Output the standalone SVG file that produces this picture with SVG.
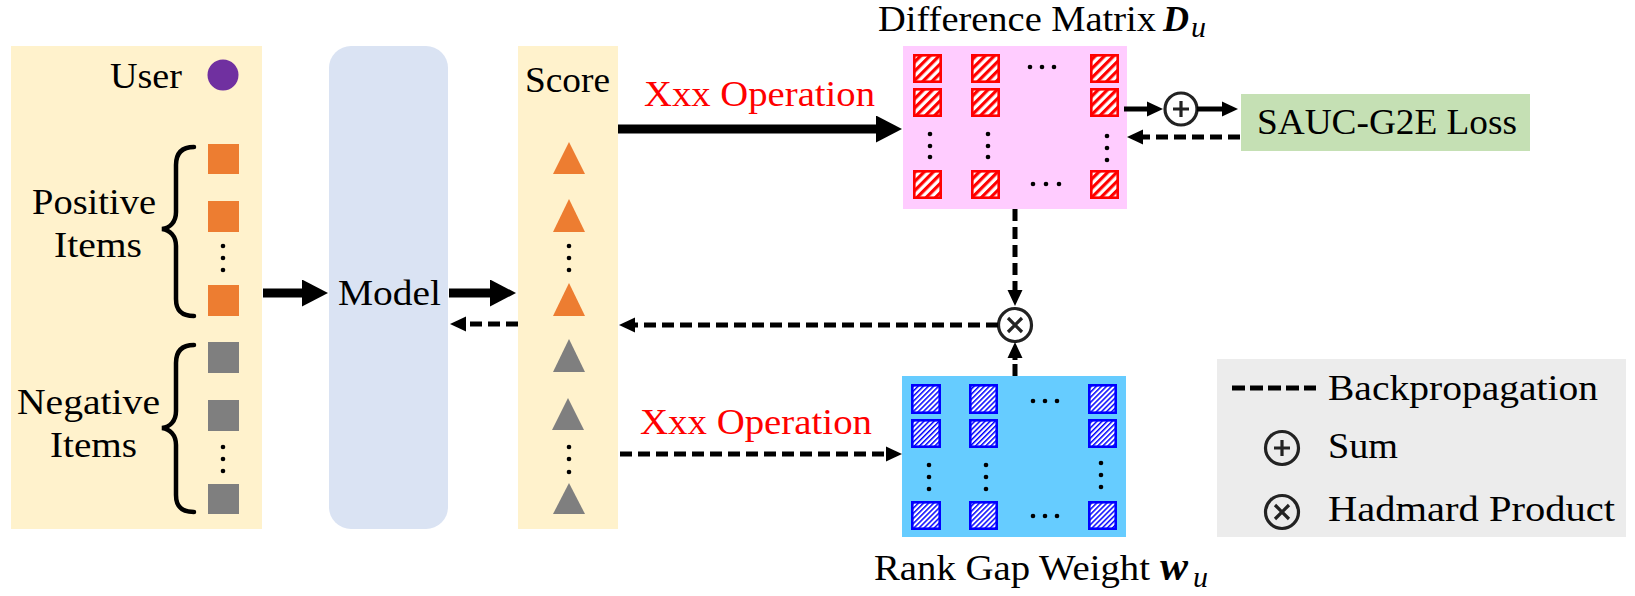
<svg xmlns="http://www.w3.org/2000/svg" width="1635" height="596" viewBox="0 0 1635 596">
<style>
text{font-family:"Liberation Serif","Times New Roman",serif;font-size:36px;fill:#000}
.red{fill:#ff0000}
.solid{stroke:#000;stroke-width:9;fill:none}
.thin{stroke:#000;stroke-width:5;fill:none}
.dash{stroke:#000;stroke-width:5;fill:none;stroke-dasharray:12 6}
.dot{fill:#000}
.brace{stroke:#000;stroke-width:4.5;fill:none;stroke-linecap:round}
.sym{fill:none;stroke:#222;stroke-width:3.2}
.rsq{fill:url(#hatchR);stroke:#ff0000;stroke-width:2.6}
.bsq{fill:url(#hatchB);stroke:#0000ff;stroke-width:2.6}
.orange{fill:#ed7d31}
.gray{fill:#7f7f7f}
</style>
<defs>
<pattern id="hatchR" patternUnits="userSpaceOnUse" width="6.5" height="6.5" patternTransform="rotate(45)">
<rect width="6.5" height="6.5" fill="#fff"/>
<rect width="3.2" height="6.5" fill="#ff0000"/>
</pattern>
<pattern id="hatchB" patternUnits="userSpaceOnUse" width="3.6" height="3.6" patternTransform="rotate(45)">
<rect width="3.6" height="3.6" fill="#fff"/>
<rect width="1.5" height="3.6" fill="#0000ff"/>
</pattern>
<marker id="bigHead" markerUnits="userSpaceOnUse" markerWidth="26" markerHeight="27" refX="1" refY="13.5" orient="auto">
<path d="M0,0 L26,13.5 L0,27 z" fill="#000"/>
</marker>
<marker id="midHead" markerUnits="userSpaceOnUse" markerWidth="16" markerHeight="16" refX="1" refY="8" orient="auto">
<path d="M0,0.5 L16,8 L0,15.5 z" fill="#000"/>
</marker>
</defs>

<g id="input-panel">
<rect x="11" y="46" width="251" height="483" fill="#fff2cc"/>
<text x="110" y="88" textLength="72" lengthAdjust="spacingAndGlyphs">User</text>
<circle cx="223" cy="75" r="15.5" fill="#7030a0"/>
<text x="32" y="214" textLength="124" lengthAdjust="spacingAndGlyphs">Positive</text>
<text x="54" y="257" textLength="88" lengthAdjust="spacingAndGlyphs">Items</text>
<text x="17" y="414" textLength="143" lengthAdjust="spacingAndGlyphs">Negative</text>
<text x="50" y="457" textLength="87" lengthAdjust="spacingAndGlyphs">Items</text>
<path class="brace" d="M194,147 C182,147 176,153 176,165 L176,212 C176,222 170,228 162,229 C170,230 176,236 176,246 L176,299 C176,311 182,316 194,316"/>
<path class="brace" d="M194,345 C182,345 176,351 176,363 L176,411 C176,421 170,427 162,428 C170,429 176,435 176,445 L176,495 C176,507 182,512 194,512"/>
<rect class="orange" x="208" y="144" width="31" height="30"/>
<rect class="orange" x="208" y="201" width="31" height="31"/>
<circle class="dot" cx="223" cy="246" r="2.3"/>
<circle class="dot" cx="223" cy="258" r="2.3"/>
<circle class="dot" cx="223" cy="270" r="2.3"/>
<rect class="orange" x="208" y="285" width="31" height="31"/>
<rect class="gray" x="208" y="342" width="31" height="31"/>
<rect class="gray" x="208" y="400" width="31" height="31"/>
<circle class="dot" cx="223" cy="447" r="2.3"/>
<circle class="dot" cx="223" cy="459" r="2.3"/>
<circle class="dot" cx="223" cy="471" r="2.3"/>
<rect class="gray" x="208" y="484" width="31" height="30"/>
</g>

<g id="model">
<rect x="329" y="46" width="119" height="483" rx="22" fill="#dae3f3"/>
<text x="338" y="305" textLength="103" lengthAdjust="spacingAndGlyphs">Model</text>
</g>

<g id="score">
<rect x="518" y="46" width="100" height="483" fill="#fff2cc"/>
<text x="525" y="92" textLength="85" lengthAdjust="spacingAndGlyphs">Score</text>
<path class="orange" d="M569,142 L585,174 L553,174 z"/>
<path class="orange" d="M569,199 L585,232 L553,232 z"/>
<circle class="dot" cx="569" cy="246" r="2.3"/>
<circle class="dot" cx="569" cy="258" r="2.3"/>
<circle class="dot" cx="569" cy="270" r="2.3"/>
<path class="orange" d="M569,283 L585,316 L553,316 z"/>
<path class="gray" d="M569,339 L585,372 L553,372 z"/>
<path class="gray" d="M568,398 L584,430 L552,430 z"/>
<circle class="dot" cx="569" cy="447" r="2.3"/>
<circle class="dot" cx="569" cy="459" r="2.3"/>
<circle class="dot" cx="569" cy="472" r="2.3"/>
<path class="gray" d="M569,483 L585,514 L553,514 z"/>
</g>

<g id="difference-matrix">
<text x="878" y="31"><tspan textLength="278" lengthAdjust="spacingAndGlyphs">Difference Matrix</tspan><tspan x="1163" font-weight="bold" font-style="italic">D</tspan><tspan x="1191" dy="6" font-style="italic" font-size="30">u</tspan></text>
<rect x="903" y="46" width="224" height="163" fill="#ffccff"/>
<rect class="rsq" x="914.3" y="55.3" width="26.4" height="26.4"/>
<rect class="rsq" x="972.3" y="55.3" width="26.4" height="26.4"/>
<rect class="rsq" x="1091.3" y="55.3" width="26.4" height="26.4"/>
<rect class="rsq" x="914.3" y="89.3" width="26.4" height="26.4"/>
<rect class="rsq" x="972.3" y="89.3" width="26.4" height="26.4"/>
<rect class="rsq" x="1091.3" y="89.3" width="26.4" height="26.4"/>
<rect class="rsq" x="914.3" y="171.3" width="26.4" height="26.4"/>
<rect class="rsq" x="972.3" y="171.3" width="26.4" height="26.4"/>
<rect class="rsq" x="1091.3" y="171.3" width="26.4" height="26.4"/>
<circle class="dot" cx="1030" cy="67" r="2.3"/>
<circle class="dot" cx="1042" cy="67" r="2.3"/>
<circle class="dot" cx="1054" cy="67" r="2.3"/>
<circle class="dot" cx="1033" cy="184" r="2.3"/>
<circle class="dot" cx="1046" cy="184" r="2.3"/>
<circle class="dot" cx="1059" cy="184" r="2.3"/>
<circle class="dot" cx="930" cy="134" r="2.3"/>
<circle class="dot" cx="930" cy="146" r="2.3"/>
<circle class="dot" cx="930" cy="157" r="2.3"/>
<circle class="dot" cx="988" cy="134" r="2.3"/>
<circle class="dot" cx="988" cy="146" r="2.3"/>
<circle class="dot" cx="988" cy="157" r="2.3"/>
<circle class="dot" cx="1107" cy="136" r="2.3"/>
<circle class="dot" cx="1107" cy="148" r="2.3"/>
<circle class="dot" cx="1107" cy="160" r="2.3"/>
</g>

<g id="rank-gap-weight">
<rect x="902" y="376" width="224" height="161" fill="#66ccff"/>
<rect class="bsq" x="912.3" y="385.3" width="27.4" height="27.4"/>
<rect class="bsq" x="970.3" y="385.3" width="26.4" height="27.4"/>
<rect class="bsq" x="1089.3" y="385.3" width="26.4" height="27.4"/>
<rect class="bsq" x="912.3" y="420.3" width="27.4" height="26.4"/>
<rect class="bsq" x="970.3" y="420.3" width="26.4" height="26.4"/>
<rect class="bsq" x="1089.3" y="420.3" width="26.4" height="26.4"/>
<rect class="bsq" x="912.3" y="502.3" width="27.4" height="26.4"/>
<rect class="bsq" x="970.3" y="502.3" width="26.4" height="26.4"/>
<rect class="bsq" x="1089.3" y="502.3" width="26.4" height="26.4"/>
<circle class="dot" cx="1033" cy="401" r="2.3"/>
<circle class="dot" cx="1045" cy="401" r="2.3"/>
<circle class="dot" cx="1057" cy="401" r="2.3"/>
<circle class="dot" cx="1033" cy="516" r="2.3"/>
<circle class="dot" cx="1045" cy="516" r="2.3"/>
<circle class="dot" cx="1057" cy="516" r="2.3"/>
<circle class="dot" cx="929" cy="465" r="2.3"/>
<circle class="dot" cx="929" cy="477" r="2.3"/>
<circle class="dot" cx="929" cy="489" r="2.3"/>
<circle class="dot" cx="986" cy="465" r="2.3"/>
<circle class="dot" cx="986" cy="477" r="2.3"/>
<circle class="dot" cx="986" cy="489" r="2.3"/>
<circle class="dot" cx="1101" cy="463" r="2.3"/>
<circle class="dot" cx="1101" cy="475" r="2.3"/>
<circle class="dot" cx="1101" cy="487" r="2.3"/>
<text x="874" y="580"><tspan textLength="276" lengthAdjust="spacingAndGlyphs">Rank Gap Weight</tspan><tspan x="1160" font-weight="bold" font-style="italic" font-size="42">w</tspan><tspan x="1193" dy="7" font-style="italic" font-size="30">u</tspan></text>
</g>

<g id="sum-op">
<circle class="sym" cx="1181" cy="109" r="16"/>
<path class="sym" d="M1173,109 H1189 M1181,101 V117"/>
</g>

<g id="hadamard-op">
<circle class="sym" cx="1015" cy="325" r="16.5"/>
<path class="sym" d="M1008,318 L1022,332 M1022,318 L1008,332"/>
</g>

<g id="loss">
<rect x="1241" y="94" width="289" height="57" fill="#c5e0b4"/>
<text x="1257" y="134" textLength="260" lengthAdjust="spacingAndGlyphs">SAUC-G2E Loss</text>
</g>

<g id="legend">
<rect x="1217" y="359" width="409" height="178" fill="#ececec"/>
<line class="dash" x1="1232" y1="388" x2="1316" y2="388" style="stroke-dasharray:13 5"/>
<text x="1328" y="400" textLength="270" lengthAdjust="spacingAndGlyphs">Backpropagation</text>
<circle class="sym" cx="1282" cy="448" r="16.5"/>
<path class="sym" d="M1274,448 H1290 M1282,440 V456"/>
<text x="1328" y="458" textLength="70" lengthAdjust="spacingAndGlyphs">Sum</text>
<circle class="sym" cx="1282" cy="512" r="16.5"/>
<path class="sym" d="M1275,505 L1289,519 M1289,505 L1275,519"/>
<text x="1328" y="521" textLength="287" lengthAdjust="spacingAndGlyphs">Hadmard Product</text>
</g>

<g id="connectors">
<line class="solid" x1="263" y1="293" x2="303" y2="293" marker-end="url(#bigHead)"/>
<line class="solid" x1="449" y1="293" x2="491" y2="293" marker-end="url(#bigHead)"/>
<line class="solid" x1="618" y1="129" x2="877" y2="129" marker-end="url(#bigHead)"/>
<text class="red" x="644" y="106" textLength="231" lengthAdjust="spacingAndGlyphs">Xxx Operation</text>
<line class="dash" x1="620" y1="454" x2="887" y2="454" marker-end="url(#midHead)"/>
<text class="red" x="640" y="434" textLength="232" lengthAdjust="spacingAndGlyphs">Xxx Operation</text>
<line class="dash" x1="518" y1="324" x2="465" y2="324" marker-end="url(#midHead)"/>
<line class="dash" x1="998" y1="325" x2="634" y2="325" marker-end="url(#midHead)"/>
<line class="dash" x1="1015" y1="209" x2="1015" y2="291" marker-end="url(#midHead)"/>
<line class="dash" x1="1015" y1="376" x2="1015" y2="357" marker-end="url(#midHead)" style="stroke-dasharray:12 4"/>
<line class="thin" x1="1124" y1="109" x2="1148" y2="109" marker-end="url(#midHead)"/>
<line class="thin" x1="1197" y1="109" x2="1223" y2="109" marker-end="url(#midHead)"/>
<line class="dash" x1="1240" y1="137" x2="1142" y2="137" marker-end="url(#midHead)"/>
</g>
</svg>
